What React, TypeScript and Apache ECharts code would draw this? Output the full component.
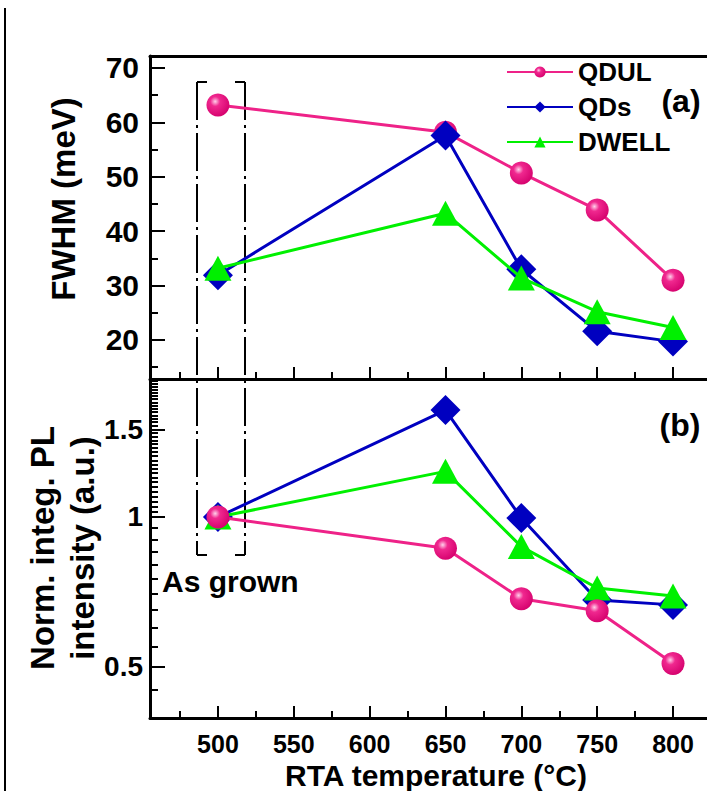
import React, { useEffect, useRef } from 'react';
import * as echarts from 'echarts';

const FONT = "'Liberation Sans', Arial, Helvetica, sans-serif";

// ---- data ----
const temps = [500, 650, 700, 750, 800];
const fwhmQDUL = [63.2, 58.2, 50.7, 43.9, 31.0];
const fwhmQDs = [31.9, 57.6, 33.0, 21.6, 19.7];
const fwhmDWELL = [33.2, 43.3, 31.4, 25.2, 22.3];
const plQDUL = [1.0, 0.865, 0.685, 0.648, 0.508];
const plQDs = [1.0, 1.64, 0.995, 0.681, 0.666];
const plDWELL = [1.0, 1.235, 0.872, 0.72, 0.694];

// ---- ticks ----
const xTicks = [500, 550, 600, 650, 700, 750, 800];
const xMinorTicks = [475, 525, 575, 625, 675, 725, 775];
const yTicksA = [20, 30, 40, 50, 60, 70];
const yMinorA = [15, 25, 35, 45, 55, 65];
const yTicksB = [0.5, 1, 1.5];
const yMinorB = [
  0.45, 0.55, 0.6, 0.65, 0.7, 0.75, 0.8, 0.85, 0.9, 0.95,
  1.025, 1.05, 1.075, 1.1, 1.125, 1.15, 1.175, 1.2, 1.225, 1.25, 1.275, 1.3, 1.325, 1.35,
  1.375, 1.4, 1.425, 1.45, 1.475, 1.525, 1.55, 1.575, 1.6, 1.625, 1.65, 1.675, 1.7, 1.725,
  1.75, 1.775, 1.8, 1.825, 1.85, 1.875,
];

const X_MIN = 455.2;
const X_MAX = 822.4;
const YA_MIN = 12.83;
const YA_MAX = 72.2;
const YB_MIN = 0.3947;
const YB_MAX = 1.893;

const PINK = '#ee2288';
const BLUE = '#0000c0';
const GREEN = '#00f000';

const pinkBall = {
  type: 'radial',
  x: 0.38,
  y: 0.35,
  r: 0.7,
  colorStops: [
    { offset: 0, color: '#ffd0ea' },
    { offset: 0.3, color: '#f0288f' },
    { offset: 1, color: '#d4006c' },
  ],
};

const lg = (v: number) => Math.log10(v);

const axisLineStyle = { show: true, onZero: false, lineStyle: { color: '#000', width: 3 } };

function buildOption() {
  const mk = (vals: number[], tf: (v: number) => number) =>
    temps.map((t, i) => [t, tf(vals[i])]);
  const id = (v: number) => v;

  const seriesDef = (
    name: string,
    vals: number[],
    tf: (v: number) => number,
    xi: number,
    yi: number,
    z: number
  ) => {
    const base: any = {
      type: 'line',
      name,
      xAxisIndex: xi,
      yAxisIndex: yi,
      data: mk(vals, tf),
      z,
      silent: true,
    };
    if (name === 'QDUL') {
      base.symbol = 'circle';
      base.symbolSize = 23;
      base.lineStyle = { color: PINK, width: 3 };
      base.itemStyle = { color: pinkBall };
    } else if (name === 'QDs') {
      base.symbol = 'diamond';
      base.symbolSize = [30, 30];
      base.lineStyle = { color: BLUE, width: 3 };
      base.itemStyle = { color: BLUE };
    } else {
      base.symbol = 'triangle';
      base.symbolSize = [27, 25];
      base.lineStyle = { color: GREEN, width: 3 };
      base.itemStyle = { color: GREEN };
    }
    return base;
  };

  const titleText = (text: string, x: number, y: number, size: number, rot = 0, align = 'center') => ({
    type: 'text',
    x,
    y,
    rotation: rot,
    silent: true,
    style: {
      text,
      fill: '#000',
      font: `bold ${size}px ${FONT}`,
      lineHeight: Math.round(size * 0.8),
      textAlign: align,
      textVerticalAlign: 'middle',
    },
  });

  const dash = { stroke: '#000', lineWidth: 2, lineDash: [38, 5, 3, 5] };
  const solid = { stroke: '#000', lineWidth: 2 };
  const bx1 = 197, bx2 = 245, by1 = 82, by2 = 555;

  const hiddenX = (grid: number, ticks: number[] | null, len: number, pos = 'bottom') => ({
    type: 'value', gridIndex: grid, min: X_MIN, max: X_MAX, position: pos,
    axisLine: { show: false, onZero: false },
    axisTick: ticks
      ? { show: true, inside: true, length: len, lineStyle: { color: '#000', width: 2 }, customValues: ticks }
      : { show: false },
    axisLabel: { show: false }, splitLine: { show: false },
  });

  return {
    animation: false,
    backgroundColor: '#fff',
    grid: [
      { left: 150, top: 56, width: 557, height: 323 },
      { left: 150, top: 379, width: 557, height: 339 },
    ],
    legend: {
      data: ['QDUL', 'QDs', 'DWELL'],
      orient: 'vertical',
      left: 506,
      top: 59,
      padding: 0,
      itemWidth: 66,
      itemHeight: 14,
      itemGap: 9,
      textStyle: { fontSize: 26, fontWeight: 'bold', fontFamily: FONT, color: '#000' },
    },
    xAxis: [
      {
        ...hiddenX(0, xTicks, 12),
        axisLine: axisLineStyle,
      },
      hiddenX(0, xMinorTicks, 7),
      {
        ...hiddenX(0, null, 0, 'top'),
        axisLine: axisLineStyle,
      },
      {
        ...hiddenX(1, xTicks, 12),
        axisLine: axisLineStyle,
        axisLabel: {
          show: true, customValues: xTicks, margin: 16,
          fontSize: 25, lineHeight: 20, fontWeight: 'bold', fontFamily: FONT, color: '#000',
        },
      },
      hiddenX(1, xMinorTicks, 7),
    ],
    yAxis: [
      {
        type: 'value', gridIndex: 0, min: YA_MIN, max: YA_MAX, position: 'left',
        axisLine: axisLineStyle,
        axisTick: { show: true, inside: true, length: 15, lineStyle: { color: '#000', width: 2 }, customValues: yTicksA },
        axisLabel: {
          show: true, customValues: yTicksA, margin: 11,
          fontSize: 30, fontWeight: 'bold', fontFamily: FONT, color: '#000',
        },
        splitLine: { show: false },
      },
      {
        type: 'value', gridIndex: 0, min: YA_MIN, max: YA_MAX, position: 'left',
        axisLine: { show: false, onZero: false },
        axisTick: { show: true, inside: true, length: 8, lineStyle: { color: '#000', width: 2 }, customValues: yMinorA },
        axisLabel: { show: false }, splitLine: { show: false },
      },
      {
        type: 'value', gridIndex: 1, min: lg(YB_MIN), max: lg(YB_MAX), position: 'left',
        axisLine: axisLineStyle,
        axisTick: { show: true, inside: true, length: 15, lineStyle: { color: '#000', width: 2 }, customValues: yTicksB.map(lg) },
        axisLabel: {
          show: true, customValues: yTicksB.map(lg), margin: 7,
          fontSize: 28, fontWeight: 'bold', fontFamily: FONT, color: '#000',
          formatter: (v: number) => String(+Math.pow(10, v).toPrecision(2)),
        },
        splitLine: { show: false },
      },
      {
        type: 'value', gridIndex: 1, min: lg(YB_MIN), max: lg(YB_MAX), position: 'left',
        axisLine: { show: false, onZero: false },
        axisTick: { show: true, inside: true, length: 8, lineStyle: { color: '#000', width: 2 }, customValues: yMinorB.map(lg) },
        axisLabel: { show: false }, splitLine: { show: false },
      },
    ],
    series: [
      seriesDef('QDUL', fwhmQDUL, id, 0, 0, 2),
      seriesDef('QDs', fwhmQDs, id, 0, 0, 3),
      seriesDef('DWELL', fwhmDWELL, id, 0, 0, 4),
      seriesDef('QDs', plQDs, lg, 3, 2, 2),
      seriesDef('DWELL', plDWELL, lg, 3, 2, 3),
      seriesDef('QDUL', plQDUL, lg, 3, 2, 4),
    ],
    graphic: [
      { type: 'line', silent: true, shape: { x1: 5, y1: 8, x2: 5, y2: 791 }, style: { stroke: '#000', lineWidth: 2 } },
      { type: 'line', silent: true, shape: { x1: bx1, y1: by1, x2: bx1, y2: by2 }, style: dash },
      { type: 'line', silent: true, shape: { x1: bx2, y1: by1, x2: bx2, y2: by2 }, style: dash },
      { type: 'line', silent: true, shape: { x1: bx1, y1: by1, x2: bx1 + 10, y2: by1 }, style: solid },
      { type: 'line', silent: true, shape: { x1: bx2 - 10, y1: by1, x2: bx2, y2: by1 }, style: solid },
      { type: 'line', silent: true, shape: { x1: bx1, y1: by2, x2: bx1 + 10, y2: by2 }, style: solid },
      { type: 'line', silent: true, shape: { x1: bx2 - 10, y1: by2, x2: bx2, y2: by2 }, style: solid },
      titleText('FWHM (meV)', 63, 199, 33, Math.PI / 2),
      titleText('Norm. integ. PL', 42, 548, 33, Math.PI / 2),
      titleText('intensity (a.u.)', 82, 548, 33, Math.PI / 2),
      titleText('RTA temperature (°C)', 436, 775.5, 30),
      titleText('As grown', 162, 581, 30, 0, 'left'),
      titleText('(a)', 681, 101, 32),
      titleText('(b)', 680, 425, 32),
    ],
  };
}

export default function App() {
  const ref = useRef<HTMLDivElement>(null);
  useEffect(() => {
    document.body.style.margin = '0';
    const chart = echarts.init(ref.current as HTMLDivElement, null, { renderer: 'svg' });
    chart.setOption(buildOption() as any);
    return () => chart.dispose();
  }, []);
  return <div ref={ref} style={{ width: 707, height: 791 }} />;
}
